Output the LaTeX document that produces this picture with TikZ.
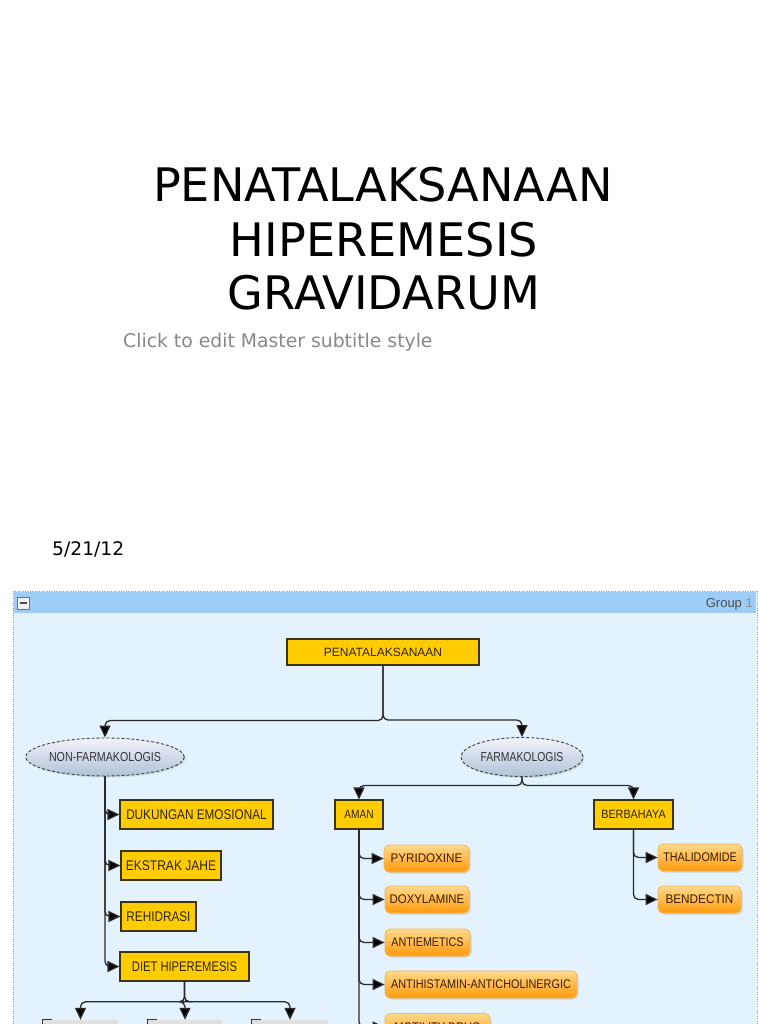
\documentclass[tikz,border=0pt]{standalone}
\usepackage{fontspec}
\setmainfont{DejaVu Sans}
\newfontfamily\arialf{Liberation Sans}
\usepackage{graphicx}
\usetikzlibrary{shapes.geometric,arrows.meta,shadows,calc}
\definecolor{subgray}{HTML}{888888}
\definecolor{panelbody}{HTML}{E3F2FD}
\definecolor{panelhead}{HTML}{9DCDF7}
\definecolor{panelb}{HTML}{9A9A9A}
\definecolor{yfill}{HTML}{FFCC00}
\definecolor{ybord}{HTML}{3A3410}
\definecolor{ytext}{HTML}{2E2600}
\definecolor{otop}{HTML}{FFD98C}
\definecolor{obot}{HTML}{FF9A0A}
\definecolor{obord}{HTML}{F6B64C}
\definecolor{otext}{HTML}{3A1E00}
\definecolor{etop}{HTML}{F0F3FA}
\definecolor{ebot}{HTML}{B3C1D8}
\definecolor{eborder}{HTML}{3C3C3C}
\definecolor{cline}{HTML}{2A2A2A}
\definecolor{grptext}{HTML}{4D4D4D}
\newcommand\dtxt[3]{{\fontsize{#1}{#1}\selectfont\scalebox{#2}[1]{#3}}}
\tikzset{
  ybox/.style={draw=ybord, fill=yfill, line width=1.1pt, inner sep=0pt, text=ytext, font=\arialf},
  obox/.style={draw=obord, rounded corners=5pt, top color=otop, bottom color=obot, line width=0.8pt,
     inner sep=0pt, text=otext, font=\arialf, drop shadow={shadow xshift=1.5pt, shadow yshift=-1.5pt, opacity=.25}},
  ellnode/.style={ellipse, draw=eborder, dashed, dash pattern=on 3pt off 2pt, line width=0.9pt,
     top color=etop, bottom color=ebot, inner sep=0pt, text=black!80, font=\arialf,
     drop shadow={shadow xshift=1.5pt, shadow yshift=-1.5pt, opacity=.2}},
  conn/.style={draw=cline, line width=1.3pt, rounded corners=5pt,
     -{Triangle[width=11pt,length=12pt,fill=black]}},
  stub/.style={fill=black!12, inner sep=0pt, minimum width=66pt, minimum height=20pt}
}
\begin{document}
\begin{tikzpicture}[x=1pt,y=-1pt]
\useasboundingbox (0,0) rectangle (768,1024);
\fill[white] (0,0) rectangle (768,1024);
\begin{scope}
\clip (0,0) rectangle (768,1024);

% title
\node[anchor=base, inner sep=0pt, font=\fontsize{46.2}{50}\selectfont] (t1) at (383,202) {PENATALAKSANAAN};
\node[anchor=base, inner sep=0pt, font=\fontsize{46.2}{50}\selectfont] (t2) at (384,256) {HIPEREMESIS};
\node[anchor=base, inner sep=0pt, font=\fontsize{46.2}{50}\selectfont] (t3) at (384,309) {GRAVIDARUM};
\node[anchor=base west, inner sep=0pt, text=subgray, font=\fontsize{18.8}{20}\selectfont] (sub) at (123,347) {Click to edit Master subtitle style};
\node[anchor=base west, inner sep=0pt, font=\fontsize{18.7}{20}\selectfont] (date) at (52,555) {5/21/12};

% panel
\draw[dotted, draw=panelb, fill=panelbody] (13,591) rectangle (757,1040);
\fill[panelhead] (13.6,591.6) rectangle (756.4,613);
\node[draw=black!55, fill=black!6, minimum size=12pt, inner sep=0pt] (minus) at (23,603) {};
\draw[line width=1.6pt, black!70] ($(minus.center)+(-3.5,0)$) -- ($(minus.center)+(3.5,0)$);
\node[anchor=east, inner sep=0pt, font=\arialf\fontsize{13}{13}\selectfont, text=grptext] (grp) at (753,604) {Group \textcolor{black!45}{1}};

% nodes
\node[ybox, minimum width=192pt, minimum height=26pt] (pen) at (383,652) {\dtxt{12}{1}{PENATALAKSANAAN}};
\node[ellnode, minimum width=152pt, minimum height=38pt] (non) at (105,757) {\dtxt{13}{.82}{NON-FARMAKOLOGIS}};
\node[ellnode, minimum width=122pt, minimum height=39pt] (far) at (522,757) {\dtxt{13}{.80}{FARMAKOLOGIS}};

\node[ybox, minimum width=153pt, minimum height=29pt] (duk) at (196.5,814.5) {\dtxt{14}{.84}{DUKUNGAN EMOSIONAL}};
\node[ybox, minimum width=100pt, minimum height=29pt] (eks) at (171,865.5) {\dtxt{14}{.86}{EKSTRAK JAHE}};
\node[ybox, minimum width=75pt, minimum height=29pt] (reh) at (158.5,916.5) {\dtxt{14}{.84}{REHIDRASI}};
\node[ybox, minimum width=129pt, minimum height=29pt] (diet) at (184.5,966.5) {\dtxt{14}{.80}{DIET HIPEREMESIS}};

\node[ybox, minimum width=48pt, minimum height=29pt] (aman) at (359,814.5) {\dtxt{12}{.84}{AMAN}};
\node[ybox, minimum width=79pt, minimum height=29pt] (ber) at (633.5,814.5) {\dtxt{12}{.9}{BERBAHAYA}};

\node[obox, minimum width=85pt, minimum height=27pt] (pyr) at (426.5,858.5) {\dtxt{12.5}{.93}{PYRIDOXINE}};
\node[obox, minimum width=84pt, minimum height=27pt] (dox) at (427,899.5) {\dtxt{12.5}{.91}{DOXYLAMINE}};
\node[obox, minimum width=85pt, minimum height=27pt] (ant) at (427.5,942.5) {\dtxt{12.5}{.86}{ANTIEMETICS}};
\node[obox, minimum width=192pt, minimum height=27pt] (ah) at (481,984.5) {\dtxt{12.5}{.87}{ANTIHISTAMIN-ANTICHOLINERGIC}};
\node[obox, minimum width=105pt, minimum height=27pt] (mot) at (437.5,1027) {\dtxt{12.5}{.88}{MOTILITY DRUG}};
\node[obox, minimum width=84pt, minimum height=27pt] (tha) at (700,857.5) {\dtxt{12.5}{.86}{THALIDOMIDE}};
\node[obox, minimum width=83pt, minimum height=27pt] (ben) at (699.5,899.5) {\dtxt{12.5}{.94}{BENDECTIN}};

\node[stub, minimum width=75pt] (b1) at (80.5,1030) {};
\node[stub, minimum width=74pt] (b2) at (185,1030) {};
\node[stub, minimum width=76pt] (b3) at (290,1030) {};
\foreach \b in {b1,b2,b3}{
  \draw[line width=1pt, black!80] ($(\b.north west)+(0,6)$) -- (\b.north west) -- ($(\b.north west)+(9,0)$);
}

% connectors
\draw[conn] (pen.south) |- ($(non.north)+(0,-17)$) -- (non.north);
\draw[conn] (pen.south) |- ($(far.north)+(0,-17)$) -- (far.north);

\draw[conn] (non.south) |- (duk.west);
\draw[conn] (non.south) |- (eks.west);
\draw[conn] (non.south) |- (reh.west);
\draw[conn] (non.south) |- (diet.west);

\draw[conn] (far.south) |- ($(aman.north)+(0,-14)$) -- (aman.north);
\draw[conn] (far.south) |- ($(ber.north)+(0,-14)$) -- (ber.north);

\draw[conn] (aman.south) |- (pyr.west);
\draw[conn] (aman.south) |- (dox.west);
\draw[conn] (aman.south) |- (ant.west);
\draw[conn] (aman.south) |- (ah.west);
\draw[conn] (aman.south) |- (mot.west);

\draw[conn] (ber.south) |- (tha.west);
\draw[conn] (ber.south) |- (ben.west);

\draw[conn] (diet.south) |- ($(b1.north)+(0,-18)$) -- (b1.north);
\draw[conn] (diet.south) |- ($(b2.north)+(0,-18)$) -- (b2.north);
\draw[conn] (diet.south) |- ($(b3.north)+(0,-18)$) -- (b3.north);
\end{scope}
\end{tikzpicture}
\end{document}
